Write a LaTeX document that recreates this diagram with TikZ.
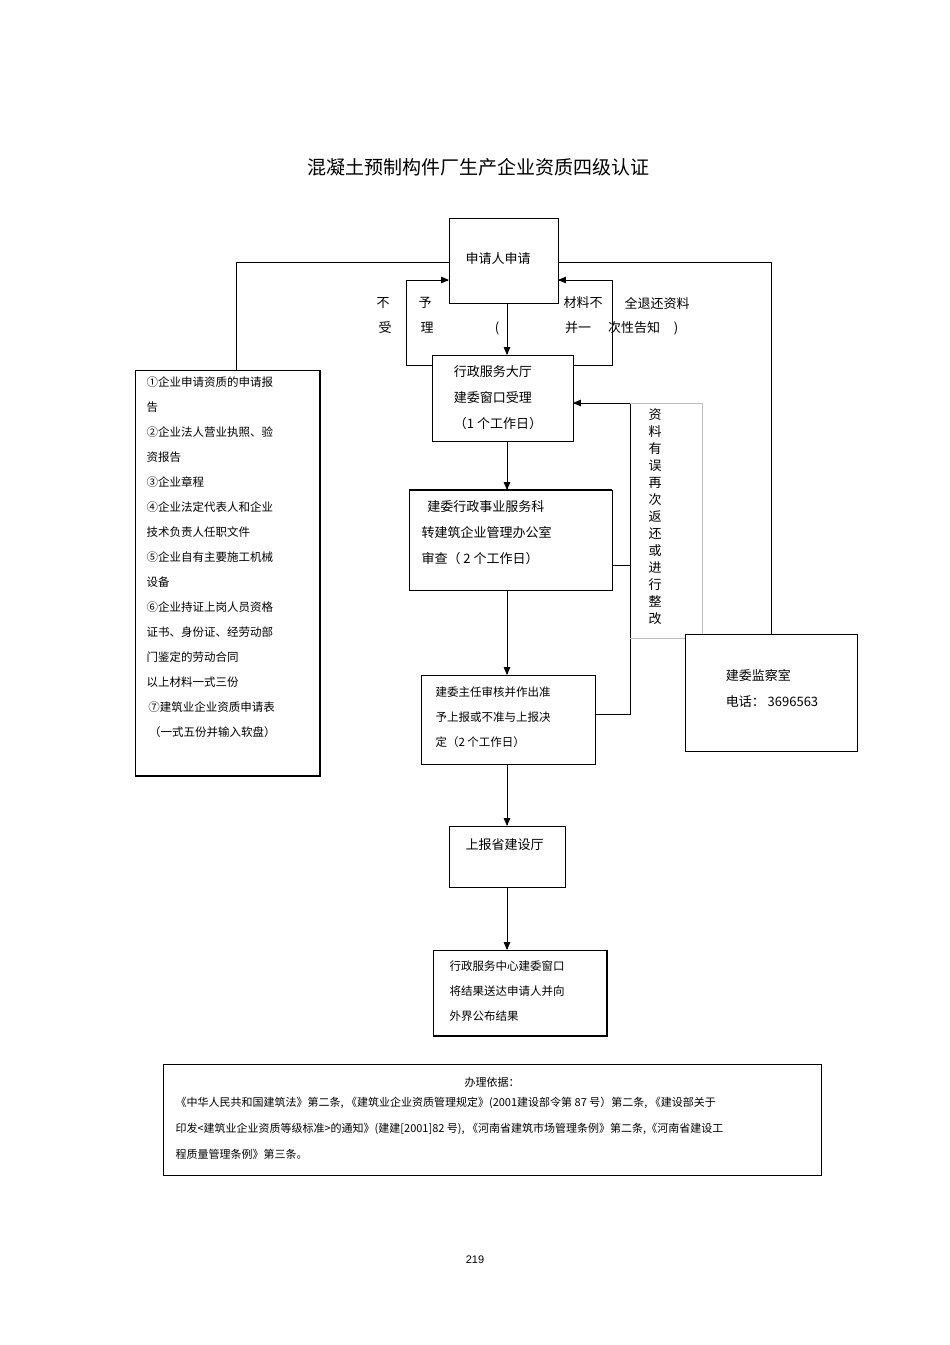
\documentclass[tikz,border=0pt]{standalone}
\usepackage{fontspec}
\setmainfont{Liberation Sans}
\newfontfamily\cjk{Noto Sans CJK SC}
\usetikzlibrary{arrows}

\tikzset{
  box/.style={draw,thick,inner sep=0pt},
  txt/.style={font=\cjk\fontsize{13}{26}\selectfont,align=left},
  small/.style={font=\cjk\fontsize{11.5}{25}\selectfont,align=left},
  flow/.style={thick,-triangle 45},
}

\begin{document}
\begin{tikzpicture}[x=1pt,y=-1pt]
          \useasboundingbox (0,0) rectangle (950,1345);

          \node[font=\cjk\fontsize{19}{22}\selectfont] (title) at (478,167) {混凝土预制构件厂生产企业资质四级认证};

          % boxes
          \draw[box] (449,218) rectangle (558,303);
          \node[txt,anchor=west] (apply) at (462,259) {申请人申请};
          \coordinate (applyT) at (507,303);

          \draw[box] (432,355) rectangle (573,441);
          \node[txt] (hall) at (498,398) {行政服务大厅\\建委窗口受理\\（1 个工作日）};

          \draw[box] (409,490) rectangle (612,590);
          \draw[very thick] (409,490) -- (612,490);
          \node[txt,anchor=north west] (office) at (418,497) {\ \ 建委行政事业服务科\\转建筑企业管理办公室\\审查（ 2 个工作日）};

          \draw[box] (421,675) rectangle (595,764);
          \node[small,anchor=north west] (chief) at (432,683) {建委主任审核并作出准\\予上报或不准与上报决\\定（2 个工作日）};

          \draw[box] (449,826) rectangle (565,887);
          \node[txt,anchor=west] (prov) at (462,845) {上报省建设厅};

          \draw[box] (433,950) rectangle (607,1036);
          \draw[line width=1.6pt] (607,950) -- (607,1036) -- (433,1036);
          \node[small,anchor=north west] (result) at (446,957) {行政服务中心建委窗口\\将结果送达申请人并向\\外界公布结果};

          \draw[box] (135,370) rectangle (320,776);
          \draw[line width=1.6pt] (320,370) -- (320,776) -- (135,776);
          \node[small,anchor=north west] (list) at (143,373) {①企业申请资质的申请报\\告\\②企业法人营业执照、验\\资报告\\③企业章程\\④企业法定代表人和企业\\技术负责人任职文件\\⑤企业自有主要施工机械\\设备\\⑥企业持证上岗人员资格\\证书、身份证、经劳动部\\门鉴定的劳动合同\\以上材料一式三份\\ \,⑦建筑业企业资质申请表\\ \ （一式五份并输入软盘）};

          \draw[box] (685,634) rectangle (857,751);
          \node[txt] (watch) at (772,688) {建委监察室\\电话： 3696563};

          % outer lines
          \draw[thick] (236,370) -- (236,262) -- (449,262);
          \draw[thick] (558,262) -- (771,262) -- (771,634);

          % main flow
          \draw[flow] (507,303) -- (507,355);
          \draw[flow] (507,441) -- (507,490);
          \draw[flow] (507,590) -- (507,675);
          \draw[flow] (507,764) -- (507,826);
          \draw[flow] (507,887) -- (507,950);

          % return loops
          \draw[flow] (432,365) -- (406,365) -- (406,280) -- (449,280);
          \draw[flow] (573,365) -- (612,365) -- (612,280) -- (558,280);
          \draw[thick] (612,565) -- (630,565);
          \draw[flow] (595,714) -- (630,714) -- (630,403) -- (573,403);
          \draw[gray!50] (630,403) -- (702,403) -- (702,634);
          \draw[gray!50] (630,638) -- (685,638);

          \node[font=\cjk\fontsize{13}{17}\selectfont,align=center] (redo) at (655,517) {资\\料\\有\\误\\再\\次\\返\\还\\或\\进\\行\\整\\改};

          \node[txt] at (383,303) {不};
          \node[txt] at (385,328) {受};
          \node[txt] at (425,303) {予};
          \node[txt] at (427,328) {理};
          \node[txt] at (497,328) {(};
          \node[txt] at (583,303) {材料不};
          \node[txt] at (657,303) {全退还资料};
          \node[txt] at (578,328) {并一};
          \node[txt] at (634,328) {次性告知};
          \node[txt] at (676,328) {)};

          % basis
          \draw[thick] (163,1064) rectangle (821,1175);
          \node[font=\cjk\fontsize{11}{12}\selectfont] (basis) at (492,1082) {办理依据：};
          \node[font=\cjk\fontsize{11}{26}\selectfont,align=left,anchor=north west] (law) at (172,1094) {《中华人民共和国建筑法》第二条, 《建筑业企业资质管理规定》(2001建设部令第 87 号）第二条, 《建设部关于\\印发<建筑业企业资质等级标准>的通知》(建建[2001]82 号), 《河南省建筑市场管理条例》第二条,《河南省建设工\\程质量管理条例》第三条。};

          \node[font=\fontsize{11}{12}\selectfont] (page) at (475,1260) {219};
\end{tikzpicture}
\end{document}
